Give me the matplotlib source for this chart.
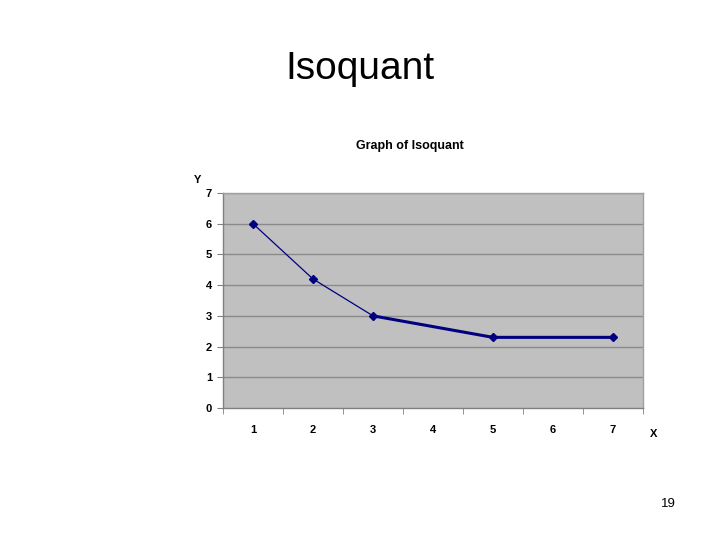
import matplotlib
matplotlib.use('Agg')
import matplotlib.pyplot as plt

plt.rcParams['font.family'] = ['Liberation Sans', 'DejaVu Sans']

categories = [1, 2, 3, 4, 5, 6, 7]
x = [1, 2, 3, 5, 7]
y = [6, 4.2, 3, 2.3, 2.3]
yticks = [0, 1, 2, 3, 4, 5, 6, 7]

fig = plt.figure(figsize=(7.2, 5.4), dpi=100)
fig.patch.set_facecolor('white')

ax = fig.add_axes([223/720, 1-408/540, 420/720, 215/540])
ax.set_facecolor('#c0c0c0')

# gridlines
for v in yticks[1:]:
    ax.axhline(v, color='#8a8a8a', lw=1.0, zorder=1)

# thin segments first, thick segments after
ax.plot(x[:3], y[:3], color='#000080', lw=0.9, zorder=3)
ax.plot(x[2:], y[2:], color='#000080', lw=2.2, zorder=3)
ax.plot(x, y, linestyle='none', marker='D', markersize=4.5, color='#000080', zorder=4)

ax.set_xlim(0.5, 7.5)
ax.set_ylim(0, 7)
ax.set_yticks(yticks)
ax.set_yticklabels([str(v) for v in yticks], fontsize=8, fontweight='bold')

# category axis: labels in centres, ticks at boundaries
ax.set_xticks(categories)
ax.set_xticklabels([str(c) for c in categories], fontsize=8, fontweight='bold')
ax.tick_params(axis='x', length=0, pad=12)
ax.set_xticks([c + 0.5 for c in [0] + categories], minor=True)
ax.tick_params(axis='x', which='minor', length=4, color='#808080')
ax.tick_params(axis='y', length=4, color='#808080', pad=4)

for s in ax.spines.values():
    s.set_color('#808080')
    s.set_linewidth(1.0)
ax.spines['top'].set_color('#a0a0a0')
ax.spines['right'].set_color('#a0a0a0')

fig.text(360/720, 1-69/540, 'Isoquant', fontsize=28, ha='center', va='center')
fig.text(410/720, 1-146/540, 'Graph of Isoquant', fontsize=9, fontweight='bold', ha='center', va='center')
fig.text(198/720, 1-180/540, 'Y', fontsize=8, fontweight='bold', ha='center', va='center')
fig.text(654/720, 1-434/540, 'X', fontsize=8, fontweight='bold', ha='center', va='center')
fig.text(668/720, 1-504/540, '19', fontsize=9.5, ha='center', va='center')

fig.savefig('out.png', dpi=100)
